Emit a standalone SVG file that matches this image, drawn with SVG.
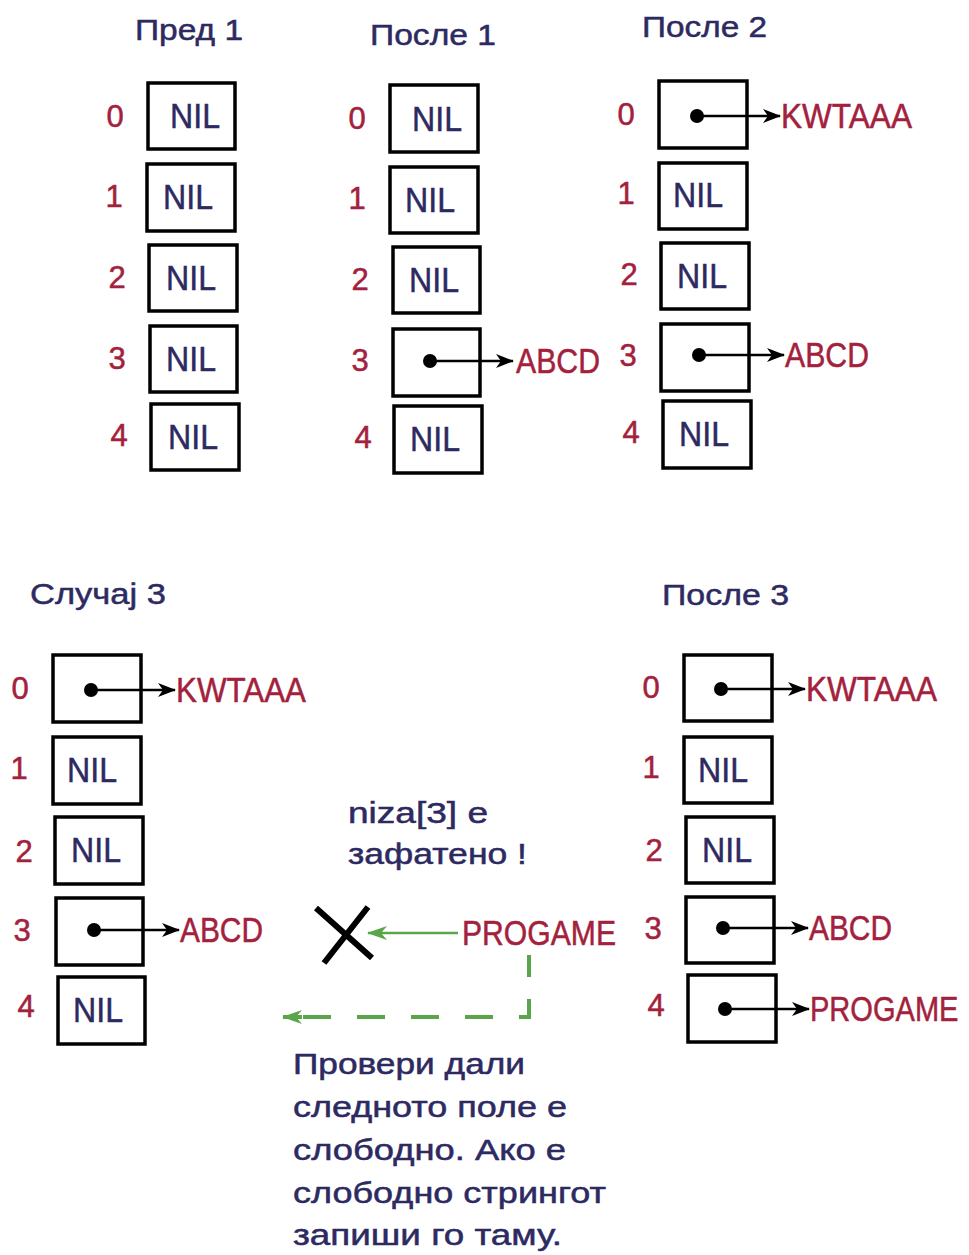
<svg xmlns="http://www.w3.org/2000/svg" width="969" height="1255" viewBox="0 0 969 1255">
<style>
text{font-family:"Liberation Sans",Arial,sans-serif;stroke-width:0.5}
.t{font-size:30px;fill:#2d2a62;stroke:#2d2a62}
.nil{font-size:35px;fill:#2d2a62;stroke:#2d2a62}
.n{font-size:31px;fill:#a3213d;stroke:#a3213d;text-anchor:middle}
.v{font-size:35px;fill:#a3213d;stroke:#a3213d}
.p{font-size:29px;fill:#2d2a62;stroke:#2d2a62}
.box{fill:#fff;stroke:#000;stroke-width:3.5}
.ptr{stroke:#000;stroke-width:2.5;fill:none}
.dot{fill:#000}
</style>
<defs>
<marker id="ah" markerWidth="18" markerHeight="14" refX="17" refY="7" orient="auto" markerUnits="userSpaceOnUse">
<path d="M0,0 L18,7 L0,14 L5,7 z" fill="#000"/>
</marker>
<marker id="ag" markerWidth="20" markerHeight="14" refX="19" refY="7" orient="auto" markerUnits="userSpaceOnUse">
<path d="M0,0 L20,7 L0,14 L6,7 z" fill="#5aa54a"/>
</marker>
</defs>
<rect width="969" height="1255" fill="#fff"/>

<!-- Column 1: Пред 1 -->
<g id="title-pred1"><text class="t" x="135" y="40" textLength="108" lengthAdjust="spacingAndGlyphs">Пред 1</text></g>
<g id="c1-0"><rect class="box" x="148" y="83" width="87" height="66"/><text class="nil" x="170" y="128" textLength="50" lengthAdjust="spacingAndGlyphs">NIL</text><text class="n" x="115" y="127">0</text></g>
<g id="c1-1"><rect class="box" x="147" y="164" width="88" height="67"/><text class="nil" x="163" y="209" textLength="50" lengthAdjust="spacingAndGlyphs">NIL</text><text class="n" x="114" y="207">1</text></g>
<g id="c1-2"><rect class="box" x="149" y="245" width="88" height="66"/><text class="nil" x="166" y="290" textLength="50" lengthAdjust="spacingAndGlyphs">NIL</text><text class="n" x="117" y="288">2</text></g>
<g id="c1-3"><rect class="box" x="150" y="326" width="87" height="66"/><text class="nil" x="166" y="371" textLength="50" lengthAdjust="spacingAndGlyphs">NIL</text><text class="n" x="117" y="369">3</text></g>
<g id="c1-4"><rect class="box" x="151" y="404" width="88" height="66"/><text class="nil" x="168" y="449" textLength="50" lengthAdjust="spacingAndGlyphs">NIL</text><text class="n" x="119" y="446">4</text></g>

<!-- Column 2: После 1 -->
<g id="title-posle1"><text class="t" x="370" y="45" textLength="126" lengthAdjust="spacingAndGlyphs">После 1</text></g>
<g id="c2-0"><rect class="box" x="390" y="85" width="88" height="67"/><text class="nil" x="412" y="131" textLength="50" lengthAdjust="spacingAndGlyphs">NIL</text><text class="n" x="357" y="129">0</text></g>
<g id="c2-1"><rect class="box" x="390" y="167" width="88" height="66"/><text class="nil" x="405" y="212" textLength="50" lengthAdjust="spacingAndGlyphs">NIL</text><text class="n" x="357" y="209">1</text></g>
<g id="c2-2"><rect class="box" x="393" y="247" width="87" height="66"/><text class="nil" x="409" y="292" textLength="50" lengthAdjust="spacingAndGlyphs">NIL</text><text class="n" x="360" y="290">2</text></g>
<g id="c2-3"><rect class="box" x="393" y="329" width="87" height="67"/><circle class="dot" cx="430" cy="361" r="7"/><text class="v" x="516" y="373" textLength="84" lengthAdjust="spacingAndGlyphs">ABCD</text><text class="n" x="360" y="371">3</text></g>
<g id="c2-4"><rect class="box" x="394" y="406" width="88" height="67"/><text class="nil" x="410" y="451" textLength="50" lengthAdjust="spacingAndGlyphs">NIL</text><text class="n" x="363" y="448">4</text></g>

<!-- Column 3: После 2 -->
<g id="title-posle2"><text class="t" x="642" y="37" textLength="125" lengthAdjust="spacingAndGlyphs">После 2</text></g>
<g id="c3-0"><rect class="box" x="659" y="81" width="88" height="67"/><circle class="dot" cx="697" cy="116" r="7"/><text class="v" x="781" y="128" textLength="131" lengthAdjust="spacingAndGlyphs">KWTAAA</text><text class="n" x="626" y="125">0</text></g>
<g id="c3-1"><rect class="box" x="659" y="163" width="88" height="66"/><text class="nil" x="673" y="207" textLength="50" lengthAdjust="spacingAndGlyphs">NIL</text><text class="n" x="626" y="204">1</text></g>
<g id="c3-2"><rect class="box" x="661" y="243" width="88" height="66"/><text class="nil" x="677" y="288" textLength="50" lengthAdjust="spacingAndGlyphs">NIL</text><text class="n" x="629" y="285">2</text></g>
<g id="c3-3"><rect class="box" x="661" y="324" width="88" height="67"/><circle class="dot" cx="699" cy="355" r="7"/><text class="v" x="785" y="367" textLength="84" lengthAdjust="spacingAndGlyphs">ABCD</text><text class="n" x="628" y="366">3</text></g>
<g id="c3-4"><rect class="box" x="663" y="401" width="88" height="67"/><text class="nil" x="679" y="446" textLength="50" lengthAdjust="spacingAndGlyphs">NIL</text><text class="n" x="631" y="443">4</text></g>

<!-- Column 4: Случај 3 -->
<g id="title-sluchaj3"><text class="t" x="30" y="604" textLength="136" lengthAdjust="spacingAndGlyphs">Случај 3</text></g>
<g id="c4-0"><rect class="box" x="53" y="655" width="88" height="67"/><circle class="dot" cx="91" cy="690" r="7"/><text class="v" x="176" y="702" textLength="130" lengthAdjust="spacingAndGlyphs">KWTAAA</text><text class="n" x="20" y="699">0</text></g>
<g id="c4-1"><rect class="box" x="53" y="737" width="88" height="67"/><text class="nil" x="67" y="782" textLength="50" lengthAdjust="spacingAndGlyphs">NIL</text><text class="n" x="19" y="779">1</text></g>
<g id="c4-2"><rect class="box" x="55" y="817" width="88" height="67"/><text class="nil" x="71" y="862" textLength="50" lengthAdjust="spacingAndGlyphs">NIL</text><text class="n" x="24" y="862">2</text></g>
<g id="c4-3"><rect class="box" x="56" y="898" width="87" height="67"/><circle class="dot" cx="94" cy="930" r="7"/><text class="v" x="180" y="942" textLength="83" lengthAdjust="spacingAndGlyphs">ABCD</text><text class="n" x="22" y="941">3</text></g>
<g id="c4-4"><rect class="box" x="58" y="977" width="87" height="67"/><text class="nil" x="73" y="1022" textLength="50" lengthAdjust="spacingAndGlyphs">NIL</text><text class="n" x="26" y="1017">4</text></g>

<!-- Column 5: После 3 -->
<g id="title-posle3"><text class="t" x="662" y="605" textLength="127" lengthAdjust="spacingAndGlyphs">После 3</text></g>
<g id="c5-0"><rect class="box" x="684" y="655" width="88" height="66"/><circle class="dot" cx="721" cy="689" r="7"/><text class="v" x="806" y="701" textLength="131" lengthAdjust="spacingAndGlyphs">KWTAAA</text><text class="n" x="651" y="698">0</text></g>
<g id="c5-1"><rect class="box" x="684" y="737" width="88" height="66"/><text class="nil" x="698" y="782" textLength="50" lengthAdjust="spacingAndGlyphs">NIL</text><text class="n" x="651" y="778">1</text></g>
<g id="c5-2"><rect class="box" x="686" y="817" width="88" height="66"/><text class="nil" x="702" y="862" textLength="50" lengthAdjust="spacingAndGlyphs">NIL</text><text class="n" x="654" y="861">2</text></g>
<g id="c5-3"><rect class="box" x="686" y="897" width="88" height="66"/><circle class="dot" cx="723" cy="928" r="7"/><text class="v" x="809" y="940" textLength="83" lengthAdjust="spacingAndGlyphs">ABCD</text><text class="n" x="653" y="939">3</text></g>
<g id="c5-4"><rect class="box" x="688" y="975" width="88" height="67"/><circle class="dot" cx="725" cy="1009" r="7"/><text class="v" transform="translate(810,1021) scale(0.83,1)" x="0" y="0">PROGAME</text><text class="n" x="656" y="1016">4</text></g>

<!-- Middle annotation -->
<g id="note-taken"><text class="p" x="348" y="823" textLength="140" lengthAdjust="spacingAndGlyphs">niza[3] e</text><text class="p" x="348" y="864" textLength="179" lengthAdjust="spacingAndGlyphs">зафатено !</text></g>
<g id="cross"><path d="M316,908 L372,958 M368,907 L324,963" stroke="#000" stroke-width="6" fill="none"/></g>
<g id="progame-new"><text class="v" x="462" y="945" textLength="154" lengthAdjust="spacingAndGlyphs">PROGAME</text></g>
<g id="note-probe">
<text class="p" x="293" y="1074" textLength="232" lengthAdjust="spacingAndGlyphs">Провери дали</text>
<text class="p" x="293" y="1117" textLength="274" lengthAdjust="spacingAndGlyphs">следното поле е</text>
<text class="p" x="293" y="1160" textLength="273" lengthAdjust="spacingAndGlyphs">слободно. Ако е</text>
<text class="p" x="293" y="1203" textLength="313" lengthAdjust="spacingAndGlyphs">слободно стрингот</text>
<text class="p" x="293" y="1245" textLength="269" lengthAdjust="spacingAndGlyphs">запиши го таму.</text>
</g>

<!-- Connectors -->
<g id="connectors">
<line class="ptr" x1="430" y1="361" x2="513" y2="361" marker-end="url(#ah)"/>
<line class="ptr" x1="697" y1="116" x2="780" y2="116" marker-end="url(#ah)"/>
<line class="ptr" x1="699" y1="355" x2="784" y2="355" marker-end="url(#ah)"/>
<line class="ptr" x1="91" y1="690" x2="175" y2="690" marker-end="url(#ah)"/>
<line class="ptr" x1="94" y1="930" x2="179" y2="930" marker-end="url(#ah)"/>
<line class="ptr" x1="721" y1="689" x2="805" y2="689" marker-end="url(#ah)"/>
<line class="ptr" x1="723" y1="928" x2="808" y2="928" marker-end="url(#ah)"/>
<line class="ptr" x1="725" y1="1009" x2="809" y2="1009" marker-end="url(#ah)"/>
<line x1="458" y1="933" x2="368" y2="933" stroke="#5aa54a" stroke-width="2.5" marker-end="url(#ag)"/>
<path d="M529,955 L529,1017 L300,1017" stroke="#5aa54a" stroke-width="4" fill="none" stroke-dasharray="22 22 28 26 28 26 28 26 28 26 28 26"/>
<path d="M302,1017 L283,1017" stroke="#5aa54a" stroke-width="4" fill="none" marker-end="url(#ag)"/>
</g>
</svg>
